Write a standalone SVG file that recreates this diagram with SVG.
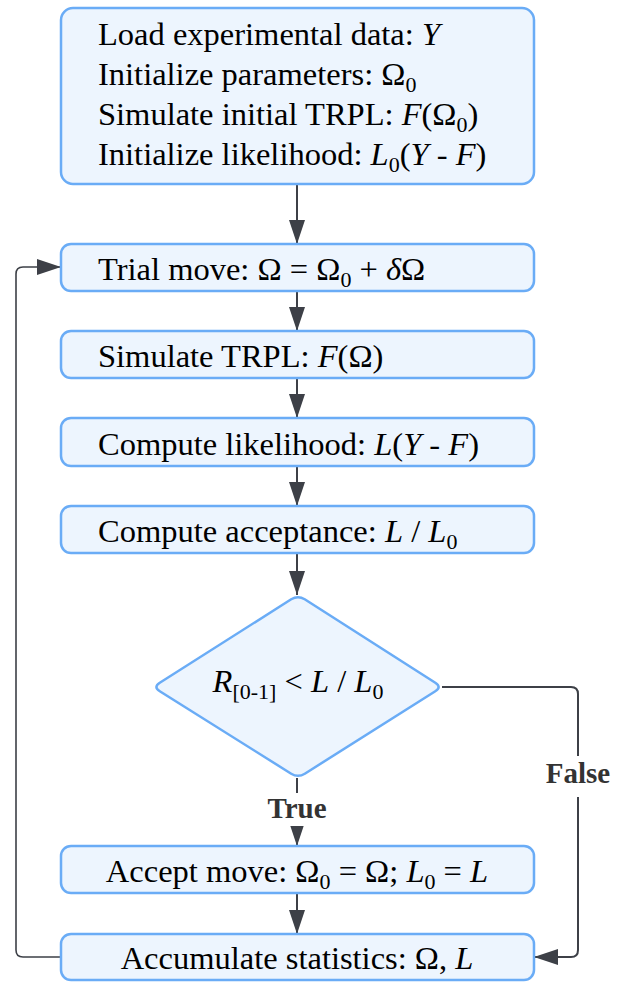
<svg xmlns="http://www.w3.org/2000/svg" width="626" height="982" viewBox="0 0 626 982">
<style>
.box{fill:#edf5fe;stroke:#6aacf6;stroke-width:2.5}
.t{font-family:"Liberation Serif","Times New Roman",serif;font-size:32.5px;fill:#000}
.c{text-anchor:middle}
.i{font-style:italic}
.s{font-size:22px}
.conn{fill:none;stroke:#3d4047;stroke-width:2}
.lbl{font-family:"Liberation Serif","Times New Roman",serif;font-size:29px;font-weight:bold;fill:#333;text-anchor:middle}
</style>
<defs>
<marker id="arr" markerUnits="userSpaceOnUse" markerWidth="24" markerHeight="16" refX="24" refY="8" orient="auto">
<path d="M0,0 L24,8 L0,16 z" fill="#3d4047"/>
</marker>
</defs>
<rect width="626" height="982" fill="#fff"/>
<g id="connectors">
<line class="conn" x1="297" y1="185" x2="297" y2="244" marker-end="url(#arr)"/>
<line class="conn" x1="297" y1="291" x2="297" y2="331" marker-end="url(#arr)"/>
<line class="conn" x1="297" y1="378" x2="297" y2="418" marker-end="url(#arr)"/>
<line class="conn" x1="297" y1="466" x2="297" y2="506" marker-end="url(#arr)"/>
<line class="conn" x1="297" y1="553" x2="297" y2="595" marker-end="url(#arr)"/>
<line class="conn" x1="297" y1="778" x2="297" y2="846" marker-end="url(#arr)"/>
<line class="conn" x1="297" y1="893" x2="297" y2="934" marker-end="url(#arr)"/>
<path class="conn" d="M442,687 H571 Q578,687 578,694 V950 Q578,957 571,957 H534" marker-end="url(#arr)"/>
<path class="conn" style="stroke-width:1.6" d="M61,957 H23 Q16,957 16,950 V274 Q16,267 23,267 H61" marker-end="url(#arr)"/>
<g id="label-true"><rect x="262" y="793" width="70" height="33" fill="#fff"/><text class="lbl" x="297" y="818">True</text></g>
<g id="label-false"><rect x="542" y="756" width="72" height="41" fill="#fff"/><text class="lbl" x="578" y="783">False</text></g>
</g>
<g id="init">
<rect class="box" x="61" y="8" width="473" height="176" rx="12"/>
<text class="t" x="98" y="45">Load experimental data: <tspan class="i">Y</tspan></text>
<text class="t" x="98" y="85">Initialize parameters: Ω<tspan class="s" dy="7">0</tspan></text>
<text class="t" x="98" y="125">Simulate initial TRPL: <tspan class="i">F</tspan>(Ω<tspan class="s" dy="7">0</tspan><tspan dy="-7">)</tspan></text>
<text class="t" x="98" y="165">Initialize likelihood: <tspan class="i">L</tspan><tspan class="s" dy="7">0</tspan><tspan dy="-7">(</tspan><tspan class="i">Y</tspan> - <tspan class="i">F</tspan>)</text>
</g>
<g id="trial">
<rect class="box" x="61" y="244" width="473" height="47" rx="10"/>
<text class="t" x="98" y="280">Trial move: Ω = Ω<tspan class="s" dy="7">0</tspan><tspan dy="-7"> + </tspan><tspan class="i">δ</tspan>Ω</text>
</g>
<g id="simulate">
<rect class="box" x="61" y="331" width="473" height="47" rx="10"/>
<text class="t" x="98" y="367">Simulate TRPL: <tspan class="i">F</tspan>(Ω)</text>
</g>
<g id="likelihood">
<rect class="box" x="61" y="418" width="473" height="48" rx="10"/>
<text class="t" x="98" y="455">Compute likelihood: <tspan class="i">L</tspan>(<tspan class="i">Y</tspan> - <tspan class="i">F</tspan>)</text>
</g>
<g id="acceptance">
<rect class="box" x="61" y="506" width="473" height="47" rx="10"/>
<text class="t" x="98" y="542">Compute acceptance: <tspan class="i">L</tspan> / <tspan class="i">L</tspan><tspan class="s" dy="7">0</tspan></text>
</g>
<g id="decision">
<path class="box" d="M291.2,599.3 Q298,595 304.7,599.3 L435.3,682.7 Q442,687 435.3,691.3 L304.8,773.7 Q298,778 291.2,773.7 L159.8,691.3 Q153,687 159.8,682.7 Z"/>
<text class="t c" x="298" y="692"><tspan class="i">R</tspan><tspan class="s" dy="7">[0-1]</tspan><tspan dy="-7"> &lt; </tspan><tspan class="i">L</tspan> / <tspan class="i">L</tspan><tspan class="s" dy="7">0</tspan></text>
</g>
<g id="accept">
<rect class="box" x="61" y="846" width="473" height="47" rx="10"/>
<text class="t c" x="297" y="882">Accept move: Ω<tspan class="s" dy="7">0</tspan><tspan dy="-7"> = Ω; </tspan><tspan class="i">L</tspan><tspan class="s" dy="7">0</tspan><tspan dy="-7"> = </tspan><tspan class="i">L</tspan></text>
</g>
<g id="accumulate">
<rect class="box" x="61" y="934" width="473" height="46" rx="10"/>
<text class="t c" x="297" y="969">Accumulate statistics: Ω, <tspan class="i">L</tspan></text>
</g>
</svg>
